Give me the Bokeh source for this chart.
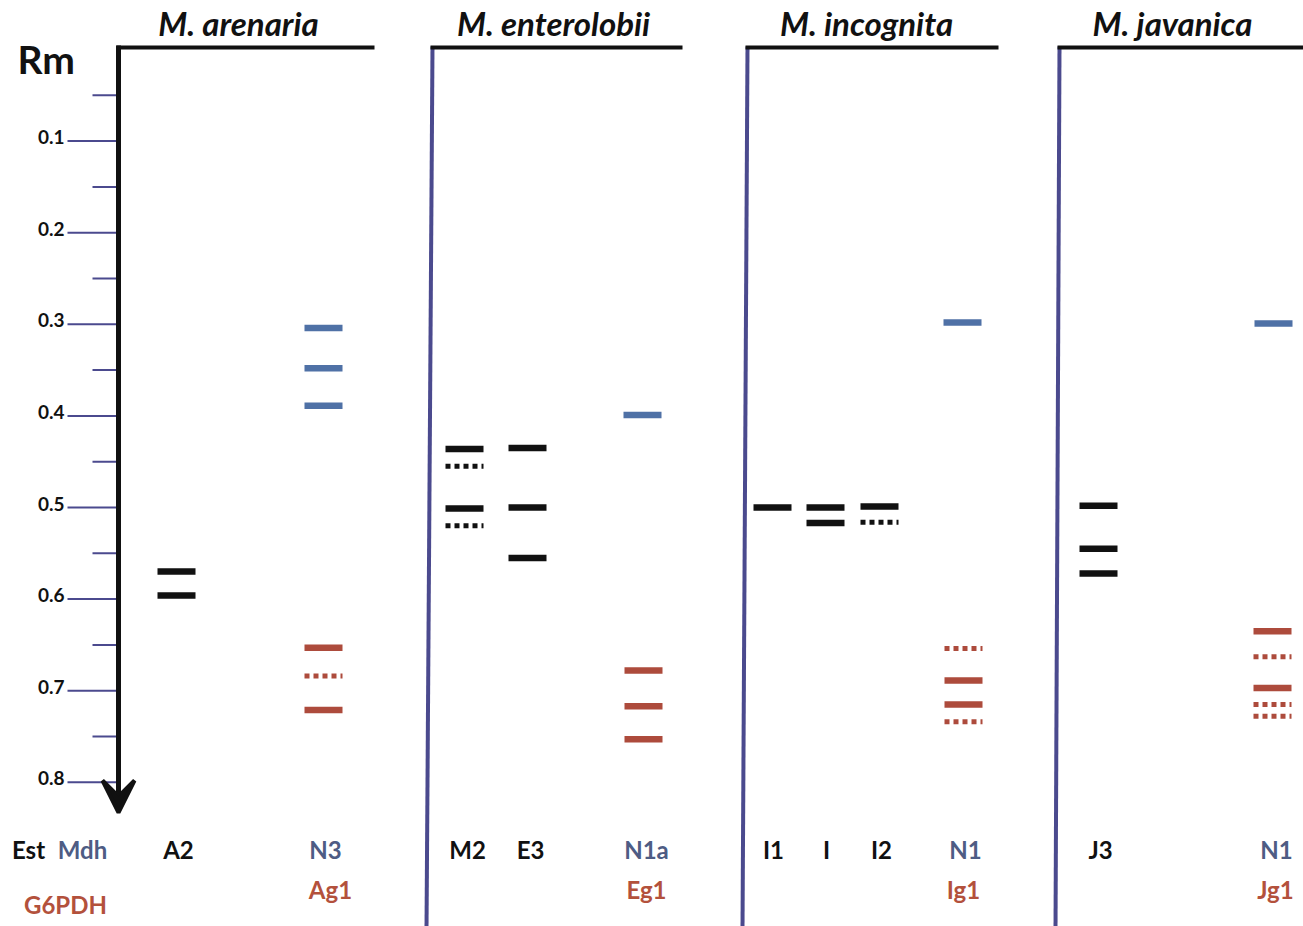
from bokeh.plotting import figure
from bokeh.models import Range1d, Arrow, VeeHead, ColumnDataSource
from bokeh.core.properties import value
from bokeh.embed import file_html
from bokeh.resources import INLINE

# ---------------- data ----------------
species = ["M. arenaria", "M. enterolobii", "M. incognita", "M. javanica"]

rm_major_ticks = [0.1, 0.2, 0.3, 0.4, 0.5, 0.6, 0.7, 0.8]
rm_major_labels = ["0.1", "0.2", "0.3", "0.4", "0.5", "0.6", "0.7", "0.8"]
rm_minor_ticks = [0.05, 0.15, 0.25, 0.35, 0.45, 0.55, 0.65, 0.75]

# band Rm values and styles (s = solid, d = dotted) per lane
A2_est = [0.570, 0.596]
A2_style = ["s", "s"]
N3_mdh = [0.304, 0.348, 0.389]
N3_style = ["s", "s", "s"]
Ag1_g6pdh = [0.653, 0.684, 0.721]
Ag1_style = ["s", "d", "s"]

M2_est = [0.436, 0.455, 0.501, 0.520]
M2_style = ["s", "d", "s", "d"]
E3_est = [0.435, 0.500, 0.555]
E3_style = ["s", "s", "s"]
N1a_mdh = [0.399]
N1a_style = ["s"]
Eg1_g6pdh = [0.678, 0.717, 0.753]
Eg1_style = ["s", "s", "s"]

I1_est = [0.500]
I1_style = ["s"]
I_est = [0.500, 0.517]
I_style = ["s", "s"]
I2_est = [0.499, 0.516]
I2_style = ["s", "d"]
N1_inc_mdh = [0.298]
N1_inc_style = ["s"]
Ig1_g6pdh = [0.654, 0.689, 0.715, 0.734]
Ig1_style = ["d", "s", "s", "d"]

J3_est = [0.498, 0.545, 0.572]
J3_style = ["s", "s", "s"]
N1_jav_mdh = [0.299]
N1_jav_style = ["s"]
Jg1_g6pdh = [0.635, 0.663, 0.697, 0.715, 0.728]
Jg1_style = ["s", "d", "s", "d", "d"]

# ---------------- layout / style ----------------
BLACK = "#111111"
BLUE = "#4f71a6"
RED = "#ad4b3c"
BLUE_TXT = "#4e5c84"
RED_TXT = "#b3513c"
PURPLE = "#4b4a8e"
FONT = value("Lato")

def ry(py):
    """reference-pixel y -> Rm"""
    return (py - 49.0) / 916.0

W, H = 1303, 926
p = figure(width=W, height=H, output_backend="svg", toolbar_location=None,
           x_range=Range1d(0, W), y_range=Range1d(ry(H), ry(0)),
           min_border=0)
p.axis.visible = False
p.grid.visible = False
p.outline_line_color = None
p.background_fill_color = "white"

# lanes: (values, styles, colour, x centre)
lanes = [
    (A2_est, A2_style, BLACK, 176), (N3_mdh, N3_style, BLUE, 323), (Ag1_g6pdh, Ag1_style, RED, 323),
    (M2_est, M2_style, BLACK, 464), (E3_est, E3_style, BLACK, 527), (N1a_mdh, N1a_style, BLUE, 642),
    (Eg1_g6pdh, Eg1_style, RED, 643),
    (I1_est, I1_style, BLACK, 772), (I_est, I_style, BLACK, 825), (I2_est, I2_style, BLACK, 879),
    (N1_inc_mdh, N1_inc_style, BLUE, 962), (Ig1_g6pdh, Ig1_style, RED, 963),
    (J3_est, J3_style, BLACK, 1098), (N1_jav_mdh, N1_jav_style, BLUE, 1273), (Jg1_g6pdh, Jg1_style, RED, 1272),
]
HW = 19
solid = dict(x0=[], x1=[], y=[], c=[])
dotted = dict(x0=[], x1=[], y=[], c=[])
for vals, styles, col, xc in lanes:
    for v, s in zip(vals, styles):
        d = solid if s == "s" else dotted
        d["x0"].append(xc - HW)
        d["x1"].append(xc + HW)
        d["y"].append(v)
        d["c"].append(col)
p.segment(x0="x0", x1="x1", y0="y", y1="y", color="c", line_width=6.5,
          source=ColumnDataSource(solid))
p.segment(x0="x0", x1="x1", y0="y", y1="y", color="c", line_width=5,
          line_dash="5 4", source=ColumnDataSource(dotted))

# Rm axis ticks
p.segment(x0=[67] * len(rm_major_ticks), x1=[116] * len(rm_major_ticks),
          y0=rm_major_ticks, y1=rm_major_ticks, line_color=PURPLE, line_width=2)
p.segment(x0=[92] * len(rm_minor_ticks), x1=[116] * len(rm_minor_ticks),
          y0=rm_minor_ticks, y1=rm_minor_ticks, line_color=PURPLE, line_width=2)
p.text(x=[64] * len(rm_major_ticks), y=rm_major_ticks, text=rm_major_labels,
       text_font=FONT, text_font_style="bold", text_font_size="19px",
       text_align="right", text_baseline="bottom", text_color=BLACK, y_offset=3)

# Rm axis arrow
p.add_layout(Arrow(end=VeeHead(size=32, fill_color=BLACK, line_color=BLACK, line_width=4),
                   x_start=118, y_start=ry(45), x_end=118, y_end=ry(812),
                   line_color=BLACK, line_width=5))
p.text(x=[17], y=[ry(58)], text=["Rm"], text_font=FONT, text_font_style="bold",
       text_font_size="39px", text_baseline="middle", text_color=BLACK)

# panel frames
p.segment(x0=[116], x1=[374], y0=[ry(47)], y1=[ry(47)], line_color=BLACK, line_width=4)
frame_top_x = [432, 747, 1059]
frame_bot_x = [426, 742, 1055]
frame_end_x = [682, 998, 1303]
p.segment(x0=frame_top_x, x1=frame_bot_x, y0=[ry(46)] * 3, y1=[ry(930)] * 3,
          line_color=PURPLE, line_width=4)
p.segment(x0=[x - 2 for x in frame_top_x], x1=frame_end_x, y0=[ry(47)] * 3, y1=[ry(47)] * 3,
          line_color=BLACK, line_width=4)

# species titles
p.text(x=[238, 553, 866, 1172], y=[ry(22)] * 4, text=species, text_font=FONT,
       text_font_style="bold italic", text_font_size="33px", text_align="center",
       text_baseline="middle", text_color=BLACK)

# lane labels
row1_black = ["Est", "A2", "M2", "E3", "I1", "I", "I2", "J3"]
row1_black_x = [28, 178, 467, 530, 773, 826, 881, 1100]
row1_blue = ["Mdh", "N3", "N1a", "N1", "N1"]
row1_blue_x = [82, 325, 646, 965, 1276]
row2_red = ["Ag1", "Eg1", "Ig1", "Jg1"]
row2_red_x = [330, 646, 963, 1275]
lbl = dict(text_font=FONT, text_font_style="bold", text_font_size="24px",
           text_align="center", text_baseline="middle")
p.text(x=row1_black_x, y=[ry(849)] * len(row1_black), text=row1_black, text_color=BLACK, **lbl)
p.text(x=row1_blue_x, y=[ry(849)] * len(row1_blue), text=row1_blue, text_color=BLUE_TXT, **lbl)
p.text(x=row2_red_x, y=[ry(889)] * len(row2_red), text=row2_red, text_color=RED_TXT, **lbl)
p.text(x=[65], y=[ry(904)], text=["G6PDH"], text_color=RED_TXT, **lbl)

open("out.html", "w").write(file_html(p, INLINE))
